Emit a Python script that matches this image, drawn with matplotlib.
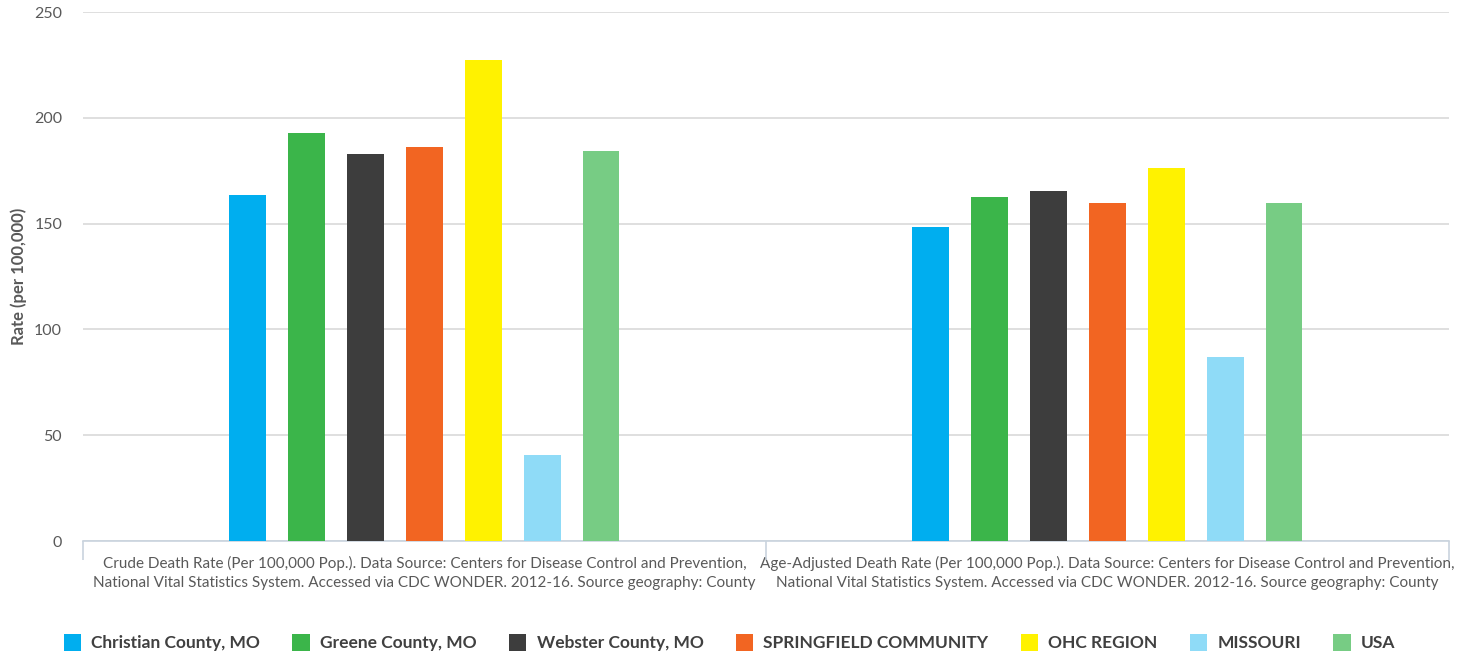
import matplotlib
matplotlib.use("Agg")
import matplotlib.pyplot as plt
import numpy as np

categories = [
    "Crude Death Rate (Per 100,000 Pop.). Data Source: Centers for Disease Control and Prevention,\nNational Vital Statistics System. Accessed via CDC WONDER. 2012-16. Source geography: County",
    "Age-Adjusted Death Rate (Per 100,000 Pop.). Data Source: Centers for Disease Control and Prevention,\nNational Vital Statistics System. Accessed via CDC WONDER. 2012-16. Source geography: County",
]
series_names = ["Christian County, MO", "Greene County, MO", "Webster County, MO",
                "SPRINGFIELD COMMUNITY", "OHC REGION", "MISSOURI", "USA"]
series_values = [
    [163.5, 148.4],
    [192.8, 162.6],
    [182.9, 165.4],
    [186.2, 159.7],
    [227.3, 176.3],
    [40.6, 87.0],
    [184.3, 159.7],
]
colors = ["#00AEEF", "#3BB54A", "#3D3D3D", "#F26522", "#FFF200", "#8FDBF7", "#77CC84"]
yticks = [0, 50, 100, 150, 200, 250]

plt.rcParams['font.family'] = ['Lato', 'DejaVu Sans']

fig = plt.figure(figsize=(14.68, 6.55), dpi=100)
ax = fig.add_axes([0.0565, 0.174, 0.9305, 0.8075])

n = len(series_names)
step = 0.0862
width = 0.054
x = np.arange(len(categories))
for i, (name, vals, c) in enumerate(zip(series_names, series_values, colors)):
    ax.bar(x + (i - (n - 1) / 2) * step, vals, width=width, color=c, label=name, zorder=3)

ax.set_xlim(-0.5, len(categories) - 0.5)
ax.set_ylim(0, 250)
ax.set_yticks(yticks)
ax.yaxis.grid(True, color="#D9D9D9", linewidth=1.2, zorder=0)
ax.tick_params(axis="y", length=0, labelsize=11.5, labelcolor="#595959", pad=15)
for s in ["top", "right", "left"]:
    ax.spines[s].set_visible(False)
ax.spines["bottom"].set_color("#C9D3DE")
ax.spines["bottom"].set_linewidth(1.2)
ax.set_xticks(x)
ax.set_xticklabels(categories, fontsize=11, color="#595959", linespacing=1.4)
ax.tick_params(axis="x", length=0, pad=11)
# category boundary ticks
ax.set_xticks([-0.5, 0.5, 1.5], minor=True)
ax.tick_params(axis="x", which="minor", length=14, color="#C9D3DE", width=1.2)

ax.set_ylabel("Rate (per 100,000)", fontsize=12, fontweight="bold", color="#595959", labelpad=5)

leg = fig.legend(loc="lower center", bbox_to_anchor=(0.497, -0.018), ncol=n, frameon=False,
                 prop={"size": 12.5, "weight": "bold"}, handlelength=1.0, handleheight=1.1,
                 columnspacing=1.85, handletextpad=0.6)
for t in leg.get_texts():
    t.set_color("#404040")

fig.savefig("out.png", dpi=100)
